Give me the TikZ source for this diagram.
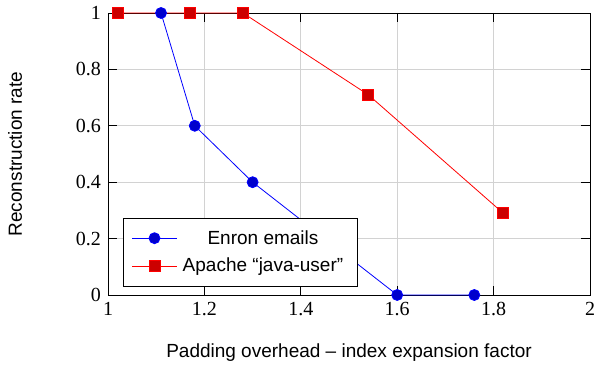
\documentclass[tikz,border=0pt]{standalone}
\usepackage{fontspec}
\setmainfont{Liberation Serif}
\setsansfont{Liberation Sans}
\usepackage{tikz}

\begin{document}
\begin{tikzpicture}[x=241pt,y=141pt,xshift=-241pt]
  \tikzstyle{gridline}=[gray!35,line width=0.4pt]
  \tikzstyle{tick}=[black,line width=0.4pt]
  \tikzstyle{ticklabel}=[inner sep=3.33pt]
  \tikzstyle{axislabel}=[font=\sffamily\fontsize{9.5pt}{11pt}\selectfont]
  \tikzstyle{enronline}=[blue,line width=0.4pt]
  \tikzstyle{apacheline}=[red,line width=0.4pt]
  \tikzstyle{enron}=[circle,fill=blue!80!black,draw=blue,line width=0.4pt,
                     inner sep=0pt,minimum size=5.5pt]
  \tikzstyle{apache}=[rectangle,fill=red!80!black,draw=red,line width=0.4pt,
                      inner sep=0pt,minimum size=5.5pt]
  \tikzstyle{legendbox}=[rectangle,draw=black,fill=white,line width=0.4pt,
                         minimum width=117pt,minimum height=34pt]

  \useasboundingbox (0.7759,-0.2553) rectangle (2.0166,1.0461);

  % grid, ticks and frame
  \draw[gridline] (1,0) grid[xstep=0.2,ystep=0.2] (2.001,1.001);
  \foreach \x in {1.2,1.4,1.6,1.8}
    \draw[tick] (\x,0) -- ++(0,0.15cm) (\x,1) -- ++(0,-0.15cm);
  \foreach \y in {0.2,0.4,0.6,0.8}
    \draw[tick] (1,\y) -- ++(0.15cm,0) (2,\y) -- ++(-0.15cm,0);
  \draw[tick] (1,0) rectangle (2,1);

  \node[ticklabel,anchor=north] (x10) at (1,0)   {1};
  \node[ticklabel,anchor=north] (x12) at (1.2,0) {1.2};
  \node[ticklabel,anchor=north] (x14) at (1.4,0) {1.4};
  \node[ticklabel,anchor=north] (x16) at (1.6,0) {1.6};
  \node[ticklabel,anchor=north] (x18) at (1.8,0) {1.8};
  \node[ticklabel,anchor=north] (x20) at (2,0)   {2};

  \node[ticklabel,anchor=east] (y00) at (1,0)   {0};
  \node[ticklabel,anchor=east] (y02) at (1,0.2) {0.2};
  \node[ticklabel,anchor=east] (y04) at (1,0.4) {0.4};
  \node[ticklabel,anchor=east] (y06) at (1,0.6) {0.6};
  \node[ticklabel,anchor=east] (y08) at (1,0.8) {0.8};
  \node[ticklabel,anchor=east] (y10) at (1,1)   {1};

  \node[axislabel] (xlabel) at (1.5,-0.2057) {Padding overhead -- index expansion factor};
  \node[axislabel,rotate=90] (ylabel) at (0.8070,0.5) {Reconstruction rate};

  % data points
  \coordinate (e1) at (1.11,1);
  \coordinate (e2) at (1.18,0.6);
  \coordinate (e3) at (1.30,0.4);
  \coordinate (e4) at (1.60,0);
  \coordinate (e5) at (1.76,0);

  \coordinate (a1) at (1.02,1);
  \coordinate (a2) at (1.17,1);
  \coordinate (a3) at (1.28,1);
  \coordinate (a4) at (1.54,0.71);
  \coordinate (a5) at (1.82,0.29);

  \draw[enronline] (e1) -- (e2) -- (e3) -- (e4) -- (e5);
  \draw[apacheline] (a1) -- (a2) -- (a3) -- (a4) -- (a5);

  \foreach \i in {1,...,5}
    \node[enron] (me\i) at (e\i) {};
  \foreach \i in {1,...,5}
    \node[apache] (ma\i) at (a\i) {};

  % legend
  \node[legendbox,anchor=south west] (legend) at (1.0311,0.0284) {};

  \coordinate (la1) at ([xshift=4.5pt,yshift=-10pt]legend.north west);
  \coordinate (lb1) at ([xshift=27pt,yshift=-10pt]legend.north west);
  \coordinate (la2) at ([xshift=4.5pt,yshift=-24pt]legend.north west);
  \coordinate (lb2) at ([xshift=27pt,yshift=-24pt]legend.north west);

  \draw[enronline] (la1) -- (lb1);
  \node[enron] (le1) at ([xshift=15.75pt,yshift=-10pt]legend.north west) {};
  \draw[apacheline] (la2) -- (lb2);
  \node[apache] (le2) at ([xshift=15.75pt,yshift=-24pt]legend.north west) {};

  \node[axislabel] (lt1) at ([xshift=70pt,yshift=-10pt]legend.north west) {Enron emails};
  \node[axislabel] (lt2) at ([xshift=70pt,yshift=-24pt]legend.north west) {Apache “java-user”};
\end{tikzpicture}
\end{document}
